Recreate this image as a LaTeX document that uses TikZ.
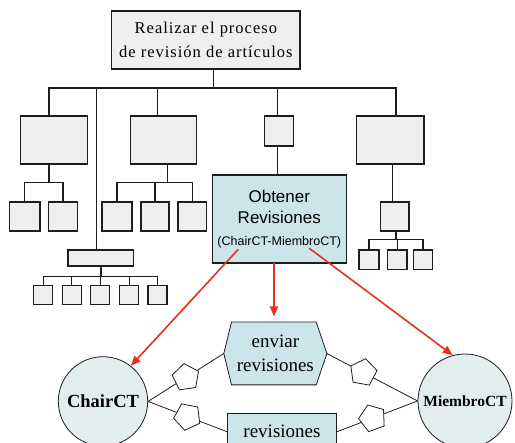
\documentclass[tikz,border=0pt]{standalone}
\usepackage{fontspec}
\setmainfont{Liberation Serif}
\setsansfont{Liberation Sans}
\newfontfamily\trackserif[LetterSpace=6]{Liberation Serif}
\usetikzlibrary{arrows.meta,shapes.geometric,backgrounds}
\definecolor{boxgray}{HTML}{EFEFEF}
\definecolor{paleblue}{HTML}{CCE5EA}
\definecolor{palecircle}{HTML}{E3EDED}
\definecolor{arrowred}{HTML}{E4321F}
\definecolor{ink}{HTML}{1E1E1E}
\begin{document}
\begin{tikzpicture}[x=1pt,y=-1pt,
  tree/.style={draw=ink,line width=1.2pt},
  gbox/.style={tree,fill=boxgray,inner sep=0pt,outer sep=0pt},
  conn/.style={draw=ink,line width=0.8pt},
  penta/.style={regular polygon,regular polygon sides=5,draw=ink,fill=white,
    line width=0.8pt,minimum size=28pt,inner sep=0pt},
  actor/.style={circle,draw=ink,line width=0.8pt,fill=palecircle,inner sep=0pt},
  redarrow/.style={draw=arrowred,line width=1.6pt,-{Triangle[length=10pt,width=8pt]}},
]
\useasboundingbox (0,0) rectangle (515,443);

% ---- task tree ----
\node[gbox,minimum width=188.3pt,minimum height=58pt,align=center,
      font=\trackserif\fontsize{16.5}{24}\selectfont] (top) at (205.85,40)
      {Realizar el proceso\\de revisión de artículos};

\node[gbox,minimum width=67.4pt,minimum height=48pt] (b1) at (54,140) {};
\node[gbox,minimum width=66pt,minimum height=48pt] (b2) at (163.3,140) {};
\node[gbox,minimum width=29pt,minimum height=30pt] (b3) at (278.8,131) {};
\node[gbox,minimum width=67.7pt,minimum height=48pt] (b4) at (390.2,140) {};

\node[gbox,minimum width=30.3pt,minimum height=29pt] (c11) at (24.85,216.5) {};
\node[gbox,minimum width=28.6pt,minimum height=29pt] (c12) at (63,216.5) {};
\node[gbox,minimum width=30pt,minimum height=29pt] (c21) at (117,216.5) {};
\node[gbox,minimum width=28pt,minimum height=29pt] (c22) at (155,216.5) {};
\node[gbox,minimum width=28.3pt,minimum height=29pt] (c23) at (192.2,216.5) {};
\node[gbox,minimum width=28.3pt,minimum height=29pt] (c41) at (394.85,216.5) {};
\node[gbox,minimum width=20pt,minimum height=19.3pt] (c4a) at (369,259.7) {};
\node[gbox,minimum width=19.3pt,minimum height=19.3pt] (c4b) at (397.3,259.7) {};
\node[gbox,minimum width=19.4pt,minimum height=19.3pt] (c4c) at (423,259.7) {};

\node[gbox,minimum width=65.7pt,minimum height=16pt] (wide) at (100.85,258) {};
\foreach \i/\x in {1/43.2,2/71.8,3/100.35,4/129.2,5/157.5}
  \node[gbox,minimum width=19pt,minimum height=19pt] (w\i) at (\x,294.8) {};

\node[gbox,fill=paleblue,minimum width=134pt,minimum height=88pt,align=center,
      font=\sffamily\fontsize{17}{21.5}\selectfont] (obt) at (279.3,219)
      {Obtener\\Revisiones\\{\fontsize{12.5}{21.5}\selectfont(ChairCT-MiembroCT)}};

% junction points of the tree
\coordinate (jt) at (213.7,88);
\coordinate (busL) at (49,88);
\coordinate (busR) at (396,88);
\coordinate (jw) at (96.3,88);
\coordinate (j2) at (157.3,88);
\coordinate (j3) at (277.7,88);
\coordinate (s1) at (49,182.7);
\coordinate (s2) at (167.3,182.7);
\coordinate (s4) at (392.3,182.7);
\coordinate (s41) at (396,239.3);
\coordinate (sw) at (101,276.7);

\draw[tree] (top.south -| jt) -- (jt);
\draw[tree] (b1.north -| busL) |- (jt) -| (b4.north -| busR);
\draw[tree] (wide.north -| jw) -- (jw);
\draw[tree] (b2.north -| j2) -- (j2);
\draw[tree] (b3.north -| j3) -- (j3);

\draw[tree] (b1.south -| s1) -- (s1);
\draw[tree] (c11.north) |- (s1) -| (c12.north);

\draw[tree] (b2.south -| s2) -- (s2);
\draw[tree] (c21.north) |- (s2) -| (c23.north);
\draw[tree] (c22.north) -- (c22.north |- s2);

\draw[tree] (b3.south -| j3) -- (obt.north -| j3);

\draw[tree] (b4.south -| s4) -- (c41.north -| s4);
\draw[tree] (c41.south -| s41) -- (s41);
\draw[tree] (c4a.north) |- (s41) -| (c4c.north);
\draw[tree] (c4b.north) -- (c4b.north |- s41);

\draw[tree] (wide.south -| sw) -- (sw);
\draw[tree] (w1.north) |- (sw) -| (w5.north);
\draw[tree] (w2.north) -- (w2.north |- sw);
\draw[tree] (w3.north) -- (w3.north |- sw);
\draw[tree] (w4.north) -- (w4.north |- sw);

% ---- actors and interactions ----
\node[actor,minimum size=89.4pt,font=\bfseries\fontsize{18.5}{20}\selectfont]
  (chair) at (103,401.4) {ChairCT};
\node[actor,minimum size=94pt,font=\bfseries\fontsize{15.5}{18}\selectfont]
  (memb) at (465,401) {MiembroCT};

\node[minimum width=102.7pt,minimum height=62.4pt,inner sep=0pt,align=center,
      font=\fontsize{19}{23.5}\selectfont] (env) at (275.35,353.5) {enviar\\revisiones};
\begin{scope}[on background layer]
  \draw[conn,fill=paleblue]
    ([xshift=7.7pt]env.north west) -- ([xshift=-10.7pt]env.north east) -- (env.east)
    -- ([xshift=-10.7pt]env.south east) -- ([xshift=7.7pt]env.south west) -- (env.west)
    -- cycle;
\end{scope}

\node[conn,fill=paleblue,minimum width=109.4pt,minimum height=36.8pt,inner sep=0pt,
      font=\fontsize{19}{23}\selectfont] (rev) at (282,431.7) {revisiones};

\draw[conn] (chair.east) -- node[penta,rotate=8] (p1) {} (env.west);
\draw[conn] (chair.east) -- node[penta,rotate=25] (p2) {} (rev.west);
\draw[conn] (env.east) -- node[pos=0.4,penta,rotate=-10] (p3) {} (memb.west);
\draw[conn] (rev.east) -- node[pos=0.44,penta,rotate=20] (p4) {} (memb.west);

% ---- red flow arrows ----
\draw[redarrow] ([xshift=-41pt,yshift=-30.3pt]obt.center) -- (chair.52);
\draw[redarrow] ([xshift=-5.3pt]obt.south) -- ([xshift=-1.35pt,yshift=5.6pt]env.north);
\draw[redarrow] ([xshift=30pt,yshift=-29.3pt]obt.center) -- (memb.105);
\end{tikzpicture}
\end{document}
